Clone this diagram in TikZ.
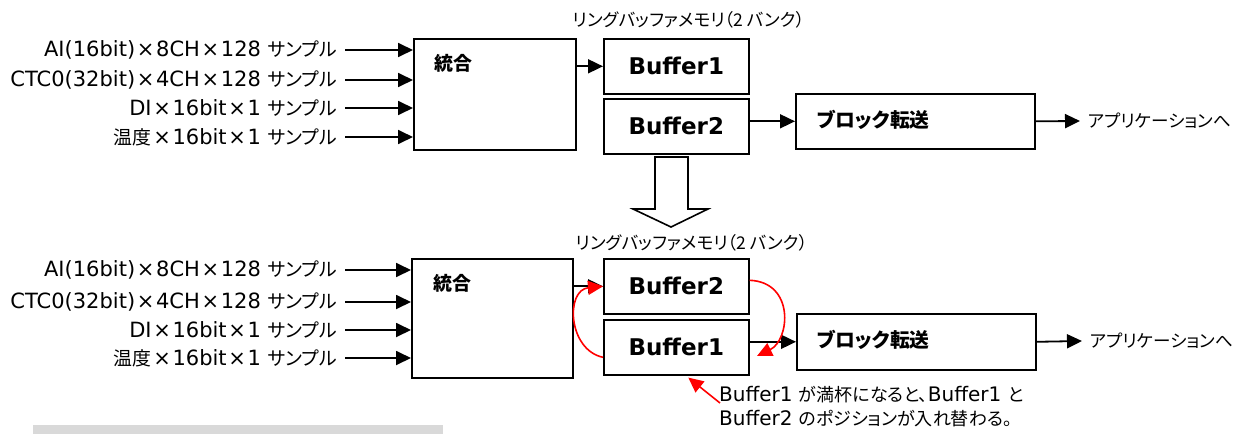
\documentclass[tikz,border=0pt]{standalone}
\usepackage{fontspec}
\setmainfont{DejaVu Sans}
\newfontfamily\cjk{Noto Sans CJK JP}[RawFeature=+palt,Scale=0.9]
\newcommand\J[1]{{\cjk #1}}
\newcommand\X{\kern0.08em×\kern0.08em}
\usetikzlibrary{arrows.meta}
\begin{document}
\begin{tikzpicture}[x=1pt,y=-1pt,
  box/.style={draw,line width=1.6pt,inner sep=0pt,anchor=north west},
  arr/.style={-{Triangle[length=15pt,width=14pt]},line width=1.8pt},
  redarr/.style={-{Triangle[length=15pt,width=14pt]},red,line width=1.6pt},
  lbl/.style={anchor=east,inner sep=0pt,font=\fontsize{21}{25}\selectfont},
  bold/.style={inner sep=0pt,font=\bfseries\fontsize{21}{25}\selectfont},
  blkfont/.style={inner sep=0pt,font=\bfseries\fontsize{22}{26}\selectfont},
  buf/.style={box,minimum width=145pt,minimum height=55pt,font=\bfseries\fontsize{23}{27}\selectfont},
  small/.style={inner sep=0pt,font=\fontsize{19.5}{22}\selectfont},
  note/.style={inner sep=0pt,anchor=north west,align=left,font=\fontsize{20}{24}\selectfont}
]
\useasboundingbox (0,0) rectangle (1239,434);

% ---------- top ----------
\node[box,minimum width=162pt,minimum height=111pt] (mixT) at (413,38) {};
\node[bold] (mixTt) at (453,63) {\J{統合}};
\node[buf] (b1T) at (603,38) {Buffer1};
\node[buf] (b2T) at (603,98) {Buffer2};
\node[box,minimum width=239pt,minimum height=55pt] (blkT) at (795,93) {};
\node[blkfont,anchor=west] (blkTt) at (817,120) {\J{ブロック転送}};
\node[small] (ringT) at (689,20) {\J{リングバッファメモリ（2 バンク）}};
\node[small,anchor=west] (appT) at (1088,121) {\J{アプリケーションへ}};

\node[lbl] (inT1) at (337,50) {AI(16bit)\X 8CH\X 128 \J{サンプル}};
\node[lbl] (inT2) at (337,80) {CTC0(32bit)\X 4CH\X 128 \J{サンプル}};
\node[lbl] (inT3) at (337,108) {DI\X 16bit\X 1 \J{サンプル}};
\node[lbl] (inT4) at (337,137) {\J{温度}\X 16bit\X 1 \J{サンプル}};
\foreach \i in {1,2,3,4}
  \draw[arr] ([xshift=8pt]inT\i.east) -- (inT\i.east -| mixT.west);
\draw[arr] (mixT.east |- b1T.west) -- (b1T.west);
\draw[arr] (b2T.east |- blkT.west) -- (blkT.west);
\draw[arr] (blkT.east) -- ([xshift=-8pt]appT.west);

% hollow arrow
\draw[line width=1.6pt,fill=white] (655,157) -- (688,157) -- (688,209) -- (708,209)
  -- (671,227) -- (633,209) -- (655,209) -- cycle;

% ---------- bottom ----------
\node[box,minimum width=161pt,minimum height=119pt] (mixB) at (411,258) {};
\node[bold] (mixBt) at (452,283) {\J{統合}};
\node[buf] (b2B) at (603,258) {Buffer2};
\node[buf] (b1B) at (603,319) {Buffer1};
\node[box,minimum width=239pt,minimum height=56pt] (blkB) at (796,313) {};
\node[blkfont,anchor=west] (blkBt) at (817,340) {\J{ブロック転送}};
\node[small] (ringB) at (692,243) {\J{リングバッファメモリ（2 バンク）}};
\node[small,anchor=west] (appB) at (1090,341) {\J{アプリケーションへ}};

\node[lbl] (inB1) at (337,270) {AI(16bit)\X 8CH\X 128 \J{サンプル}};
\node[lbl] (inB2) at (337,302) {CTC0(32bit)\X 4CH\X 128 \J{サンプル}};
\node[lbl] (inB3) at (337,330) {DI\X 16bit\X 1 \J{サンプル}};
\node[lbl] (inB4) at (337,358) {\J{温度}\X 16bit\X 1 \J{サンプル}};
\foreach \i in {1,2,3,4}
  \draw[arr] ([xshift=8pt]inB\i.east) -- (inB\i.east -| mixB.west);
\draw[arr] (mixB.east |- b2B.west) -- (b2B.west);
\draw[arr] (b1B.east |- blkB.west) -- (blkB.west);
\draw[arr] (blkB.east) -- ([xshift=-8pt]appB.west);

% red swap arrows
\coordinate (rtip) at (757,356);
\draw[redarr] ([yshift=-10pt]b1B.west) .. controls (568,350) and (565,290) .. (b2B.west);
\draw[redarr] ([yshift=6pt]b2B.east) .. controls (795,282) and (790,340) .. (rtip);

% annotation
\node[note] (note) at (719,386) {Buffer1 \J{が満杯になると、}Buffer1 \J{と}\\Buffer2 \J{のポジションが入れ替わる。}};
\coordinate (nstart) at (720,403);
\draw[redarr] (nstart) -- ([xshift=12pt,yshift=-2pt]b1B.south);

% cut-off heading bar
\fill[black!15] (33,425) rectangle (443,434);
\end{tikzpicture}
\end{document}
